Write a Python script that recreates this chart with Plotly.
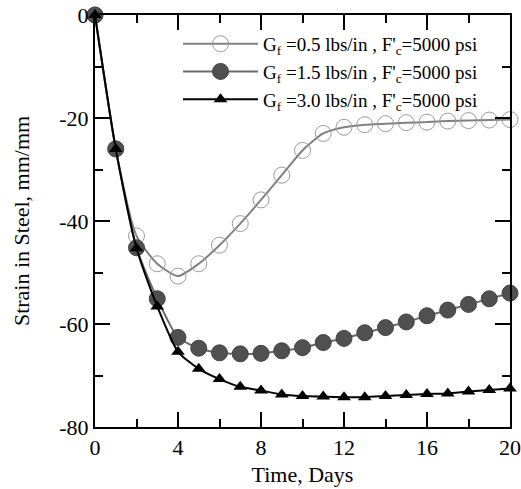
import plotly.graph_objects as go

days = list(range(0, 21))
gf05 = [0, -26, -42.9, -48.3, -50.7, -48.3, -44.7, -40.5, -35.9, -31.1, -26.3, -23.0,
        -21.8, -21.3, -21.1, -20.9, -20.8, -20.6, -20.5, -20.4, -20.3]
gf15 = [0, -26, -45.2, -55.1, -62.6, -64.7, -65.6, -65.8, -65.7, -65.2, -64.6, -63.6,
        -62.8, -61.7, -60.7, -59.6, -58.4, -57.3, -56.2, -55.1, -54.0]
gf30 = [0, -26, -45.3, -56.6, -65.4, -68.7, -70.7, -72.2, -72.9, -73.7, -74.0, -74.1,
        -74.2, -74.2, -74.0, -73.8, -73.6, -73.5, -73.1, -72.8, -72.5]
names = ["G<sub>f</sub> =0.5 lbs/in , F'<sub>c</sub>=5000 psi",
         "G<sub>f</sub> =1.5 lbs/in , F'<sub>c</sub>=5000 psi",
         "G<sub>f</sub> =3.0 lbs/in , F'<sub>c</sub>=5000 psi"]
y_tickvals = [0, -20, -40, -60, -80]
y_ticktext = ["0", "-20", "-40", "-60", "-80"]
x_tickvals = [0, 4, 8, 12, 16, 20]
x_ticktext = ["0", "4", "8", "12", "16", "20"]

FONT = "Liberation Serif, Times New Roman, serif"

fig = go.Figure()
fig.add_trace(go.Scatter(
    x=days, y=gf05, name=names[0], mode="lines+markers",
    line=dict(color="#808080", width=2, shape="spline", smoothing=0.6),
    marker=dict(symbol="circle-open", size=16, color="#9a9a9a", line=dict(width=1)),
    cliponaxis=False))
fig.add_trace(go.Scatter(
    x=days, y=gf15, name=names[1], mode="lines+markers",
    line=dict(color="#6a6a6a", width=2, shape="spline", smoothing=0.6),
    marker=dict(symbol="circle", size=16, color="#505050", line=dict(width=1, color="#444")),
    cliponaxis=False))
fig.add_trace(go.Scatter(
    x=days, y=gf30, name=names[2], mode="lines+markers",
    line=dict(color="black", width=2, shape="spline", smoothing=0.6),
    marker=dict(symbol="triangle-up", size=12, color="black"),
    cliponaxis=False))

axis_common = dict(
    showline=True, linecolor="black", linewidth=2, mirror="ticks",
    ticks="inside", tickwidth=2, ticklen=15, tickcolor="black",
    showgrid=False, zeroline=False, automargin=False,
    ticklabeloverflow="allow",
    tickfont=dict(family=FONT, size=22, color="black"),
)

fig.update_xaxes(
    range=[0, 20], tickvals=x_tickvals, ticktext=x_ticktext,
    minor=dict(dtick=2, tick0=0, ticks="inside", ticklen=8, tickwidth=2, tickcolor="black", showgrid=False),
    title=dict(text="Time, Days", font=dict(family=FONT, size=22, color="black"), standoff=7),
    **axis_common)
fig.update_yaxes(
    range=[-80, 0], tickvals=y_tickvals, ticktext=y_ticktext,
    minor=dict(dtick=10, tick0=0, ticks="inside", ticklen=8, tickwidth=2, tickcolor="black", showgrid=False),
    title=dict(text="Strain in Steel, mm/mm", font=dict(family=FONT, size=22, color="black"), standoff=24),
    **axis_common)

fig.update_layout(
    width=521, height=489,
    margin=dict(l=95, r=11, t=15, b=62),
    plot_bgcolor="white", paper_bgcolor="white",
    font=dict(family=FONT, color="black"),
    legend=dict(x=0.935, y=0.976, xanchor="right", yanchor="top",
                bgcolor="rgba(0,0,0,0)", font=dict(family=FONT, size=19, color="black"),
                itemwidth=75, tracegroupgap=0),
)

fig.write_html("out.html", config={"displayModeBar": False},
               post_script="document.body.style.margin='0';document.body.style.overflow='hidden';")
